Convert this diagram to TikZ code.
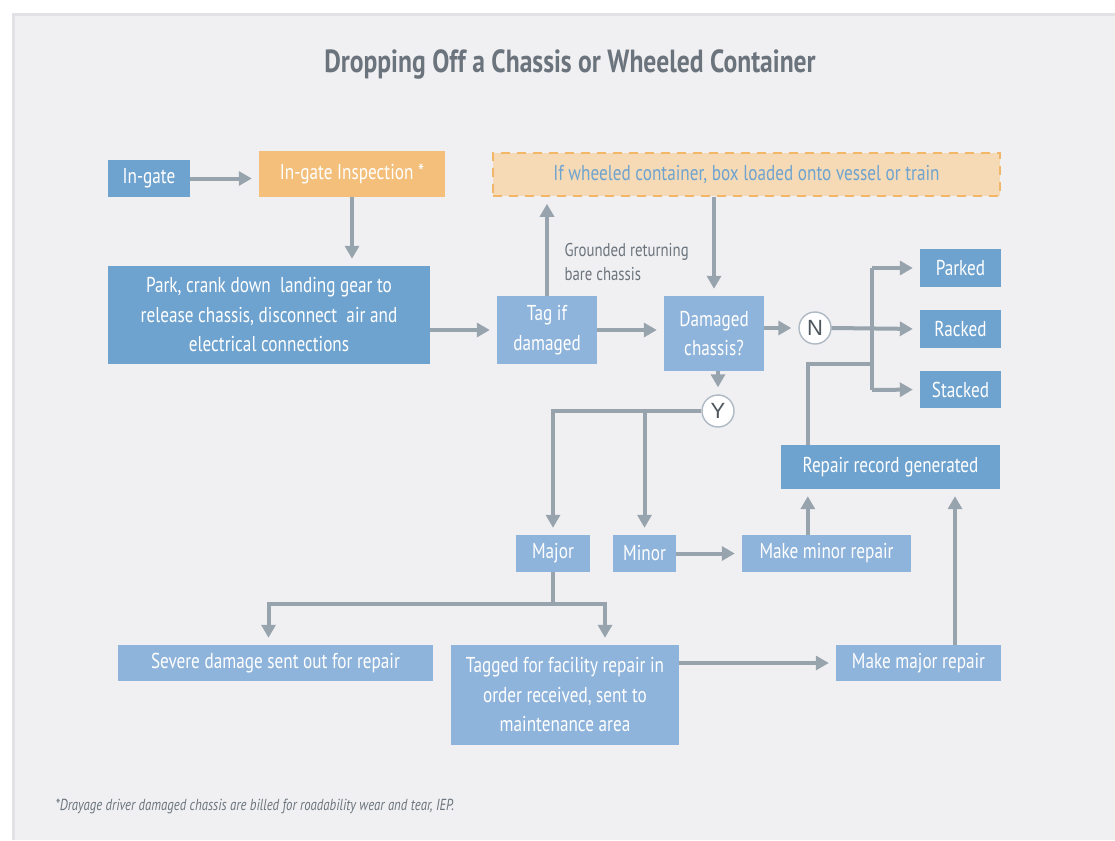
\documentclass[tikz,border=0pt]{standalone}
\usepackage{fontspec}
\setmainfont{PT Sans}[FakeStretch=0.8]
\newfontfamily\circfont{Liberation Sans}
\usetikzlibrary{arrows.meta}
\definecolor{panel}{HTML}{F0F0F2}
\definecolor{paneledge}{HTML}{E2E2E6}
\definecolor{dblue}{HTML}{6FA3CF}
\definecolor{lblue}{HTML}{8FB4DB}
\definecolor{orng}{HTML}{F3BF7B}
\definecolor{lorng}{HTML}{F5DAB5}
\definecolor{dorng}{HTML}{F2B668}
\definecolor{conn}{HTML}{97A3AD}
\definecolor{titlegrey}{HTML}{6B747D}
\definecolor{circedge}{HTML}{AEB9C4}
\definecolor{circtext}{HTML}{4F575E}
\tikzset{
  box/.style={inner sep=0pt, align=center, text=white,
    font=\fontsize{21.5}{29.5}\selectfont},
  dbox/.style={box, fill=dblue},
  lbox/.style={box, fill=lblue},
  obox/.style={box, fill=orng},
  wbox/.style={box, fill=lorng, draw=dorng, line width=1.6pt,
    dash pattern=on 9pt off 7pt, text=dblue},
  yn/.style={circle, fill=white, draw=circedge, line width=1.4pt,
    minimum size=32pt, inner sep=0pt, text=circtext,
    font=\circfont\fontsize{22}{22}\selectfont},
  wire/.style={draw=conn, line width=4pt},
  arr/.style={wire, -{Triangle[length=13pt,width=14pt]}, shorten >=7pt},
  note/.style={text=titlegrey, align=left, anchor=west,
    font=\fontsize{18.5}{24}\selectfont}
}
\begin{document}
\begin{tikzpicture}[x=1pt,y=-1pt]
% page and panel
\useasboundingbox (0,0) rectangle (1115,840);
\fill[white] (0,0) rectangle (1115,840);
\fill[paneledge] (12,13) rectangle (1115,840);
\fill[panel] (15,16) rectangle (1115,840);

% title
\node[text=titlegrey, font=\bfseries\fontsize{32}{34}\selectfont] (title) at (570,64)
  {Dropping Off a Chassis or Wheeled Container};

% process boxes
\node[dbox, minimum width=82pt, minimum height=37pt] (ingate) at (149,178.5) {In-gate};
\node[obox, minimum width=186pt, minimum height=46pt] (insp) at (352,174) {In-gate Inspection *};
\node[wbox, minimum width=507pt, minimum height=43pt] (wheel) at (746.5,174.5)
  {If wheeled container, box loaded onto vessel or train};
\node[dbox, minimum width=322pt, minimum height=98pt] (park) at (269,315)
  {Park, crank down\ \ landing gear to\\release chassis, disconnect\ \ air and\\electrical connections};
\node[lbox, minimum width=100pt, minimum height=68pt] (tag) at (547,330) {Tag if\\damaged};
\node[lbox, minimum width=100pt, minimum height=75pt] (dmg) at (714,333.5) {Damaged\\chassis?};
\node[yn] (ncirc) at (815,328) {N};
\node[dbox, minimum width=81pt, minimum height=38pt] (parked) at (960.5,268) {Parked};
\node[dbox, minimum width=81pt, minimum height=38pt] (racked) at (960.5,329) {Racked};
\node[dbox, minimum width=81pt, minimum height=37pt] (stacked) at (960.5,389.5) {Stacked};
\node[dbox, minimum width=219pt, minimum height=44pt] (repair) at (890.5,467) {Repair record generated};
\node[yn] (ycirc) at (718,411) {Y};
\node[lbox, minimum width=74pt, minimum height=37pt] (major) at (553,553.5) {Major};
\node[lbox, minimum width=63pt, minimum height=37pt] (minor) at (644.5,553.5) {Minor};
\node[lbox, minimum width=169pt, minimum height=37pt] (mkminor) at (826.5,553.5) {Make minor repair};
\node[lbox, minimum width=315pt, minimum height=36pt] (severe) at (275.5,663) {Severe damage sent out for repair};
\node[lbox, minimum width=228pt, minimum height=100pt] (tagged) at (565,695)
  {Tagged for facility repair in\\order received, sent to\\maintenance area};
\node[lbox, minimum width=165pt, minimum height=36pt] (mkmajor) at (918.5,663) {Make major repair};

% side label
\node[note] (grounded) at (561,262) {Grounded returning\\bare chassis};

% footnote
\node[text=titlegrey, anchor=west, font=\itshape\fontsize{16}{18}\selectfont] (foot) at (52,806)
  {*Drayage driver damaged chassis are billed for roadability wear and tear, IEP.};

% junction points
\coordinate (bustop) at (872,268);
\coordinate (busbot) at (872,390);
\coordinate (busjoin) at (872,364);
\coordinate (split) at (553,604);

% connectors
\draw[arr] (ingate.east) -- (ingate.east -| insp.west);
\draw[arr] (insp.south) -- (insp.south |- park.north);
\draw[arr] (park.east |- tag) -- (tag.west);
\draw[arr] (tag.north) -- (tag.north |- wheel.south);
\draw[arr] (tag.east) -- (tag.east -| dmg.west);
\draw[arr] (wheel.south -| dmg.north) -- (dmg.north);
\draw[arr] (dmg.east |- ncirc) -- (ncirc.west);
\draw[wire] (bustop) -- (busbot);
\draw[arr] (ncirc.east) -- (racked.west);
\draw[arr] (bustop) -- (parked.west);
\draw[arr] (busbot) -- (stacked.west);
\draw[wire] ([xshift=27pt]repair.north west) |- (busjoin);
\draw[arr] (dmg.south -| ycirc) -- (ycirc.north);
\draw[arr] (ycirc.west) -| (major.north);
\draw[arr] (ycirc.west -| minor.north) -- (minor.north);
\draw[arr] (minor.east) -- (mkminor.west);
\draw[arr] ([xshift=66pt]mkminor.north west) -- ([xshift=66pt]mkminor.north west |- repair.south);
\draw[wire] (major.south) -- (split);
\draw[arr] (split) -| ([xshift=-7pt]severe.north);
\draw[arr] (split) -| ([xshift=40pt]tagged.north);
\draw[arr] (tagged.east |- mkmajor) -- (mkmajor.west);
\draw[arr] ([xshift=36.5pt]mkmajor.north) -- ([xshift=36.5pt]mkmajor.north |- repair.south);
\end{tikzpicture}
\end{document}
